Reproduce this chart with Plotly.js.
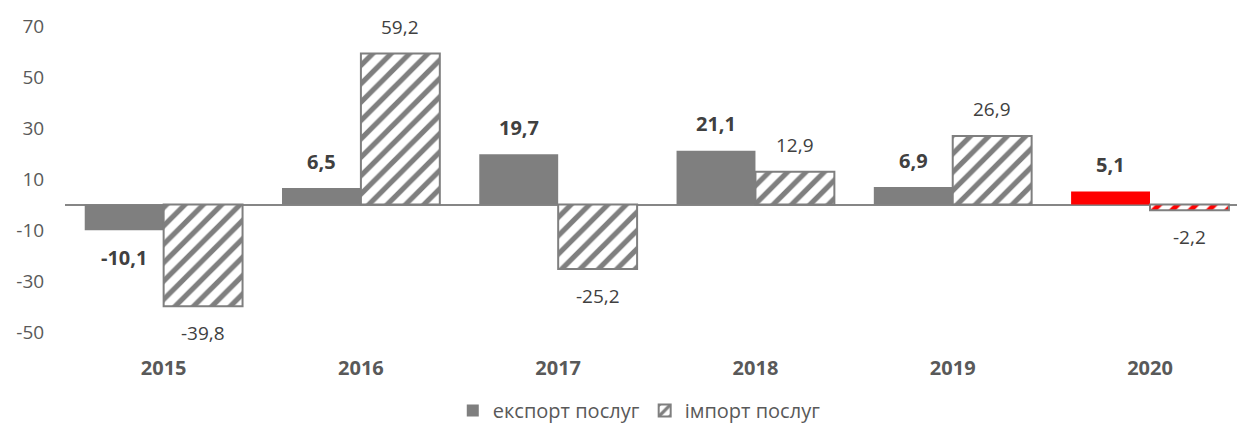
<!DOCTYPE html>
<html>
<head>
<meta charset="utf-8">
<script src="https://cdn.plot.ly/plotly-3.0.1.min.js"></script>
<style>html,body{margin:0;padding:0;background:#fff;}#chart{width:1237px;height:430px;}</style>
</head>
<body>
<div id="chart"></div>
<script>
const years = ['2015', '2016', '2017', '2018', '2019', '2020'];
const exportValues = [-10.1, 6.5, 19.7, 21.1, 6.9, 5.1];
const importValues = [-39.8, 59.2, -25.2, 12.9, 26.9, -2.2];
const exportName = 'експорт послуг';
const importName = 'імпорт послуг';
const yTicks = [-50, -30, -10, 10, 30, 50, 70];

const GRAY = '#7f7f7f';
const RED = '#ff0000';
const FONT = '"Open Sans", "Noto Sans", sans-serif';

const exportColors = years.map((y, i) => i === years.length - 1 ? RED : GRAY);
const importStripe = years.map((y, i) => i === years.length - 1 ? RED : GRAY);

const fmt = v => v.toFixed(1).replace('.', ',');

const traces = [
  {
    type: 'bar', name: exportName, x: years, y: exportValues,
    marker: {color: exportColors, line: {width: 0}},
    hoverinfo: 'skip'
  },
  {
    type: 'bar', name: importName, x: years, y: importValues,
    marker: {
      color: 'white',
      line: {color: GRAY, width: 2},
      pattern: {shape: '/', fgcolor: importStripe, bgcolor: 'white', fgopacity: 1, size: 13, solidity: 0.4, fillmode: 'overlay'}
    },
    hoverinfo: 'skip'
  }
];

const SHIFT_X = 39.4;
const SHIFT_Y = 27;
const annotations = [];
years.forEach((yr, i) => {
  annotations.push({
    x: i, y: exportValues[i], xref: 'x', yref: 'y', showarrow: false,
    text: '<b>' + fmt(exportValues[i]) + '</b>',
    xshift: -SHIFT_X, yshift: exportValues[i] >= 0 ? SHIFT_Y : -SHIFT_Y,
    font: {family: FONT, size: 20, color: '#404040'}
  });
  annotations.push({
    x: i, y: importValues[i], xref: 'x', yref: 'y', showarrow: false,
    text: fmt(importValues[i]),
    xshift: SHIFT_X, yshift: importValues[i] >= 0 ? SHIFT_Y : -SHIFT_Y,
    font: {family: FONT, size: 19, color: '#404040'}
  });
});

const layout = {
  width: 1237, height: 430,
  margin: {l: 65, r: 0, t: 12, b: 76},
  paper_bgcolor: 'white', plot_bgcolor: 'white',
  font: {family: FONT, color: '#595959'},
  barmode: 'group', bargap: 0.2, bargroupgap: 0,
  showlegend: true,
  legend: {
    orientation: 'h', x: 0.49, xanchor: 'center', y: -0.125, yanchor: 'top',
    font: {family: FONT, size: 20, color: '#595959'},
    itemwidth: 30, traceorder: 'normal'
  },
  xaxis: {
    type: 'category', range: [-0.5, 5.441],
    showgrid: false, showline: false, zeroline: false,
    ticks: 'outside', ticklen: 1, tickcolor: 'rgba(0,0,0,0)',
    tickfont: {family: FONT, size: 20, color: '#595959', weight: 'bold'},
    fixedrange: true
  },
  yaxis: {
    range: [-56.6, 75.5], tickvals: yTicks, ticktext: yTicks.map(String),
    showgrid: false, showline: false,
    zeroline: true, zerolinecolor: '#868686', zerolinewidth: 2,
    ticks: 'outside', ticklen: 16, tickcolor: 'rgba(0,0,0,0)',
    tickfont: {family: FONT, size: 19, color: '#595959'},
    fixedrange: true
  },
  annotations: annotations
};

Plotly.newPlot('chart', traces, layout, {displayModeBar: false, staticPlot: true});
</script>
</body>
</html>
